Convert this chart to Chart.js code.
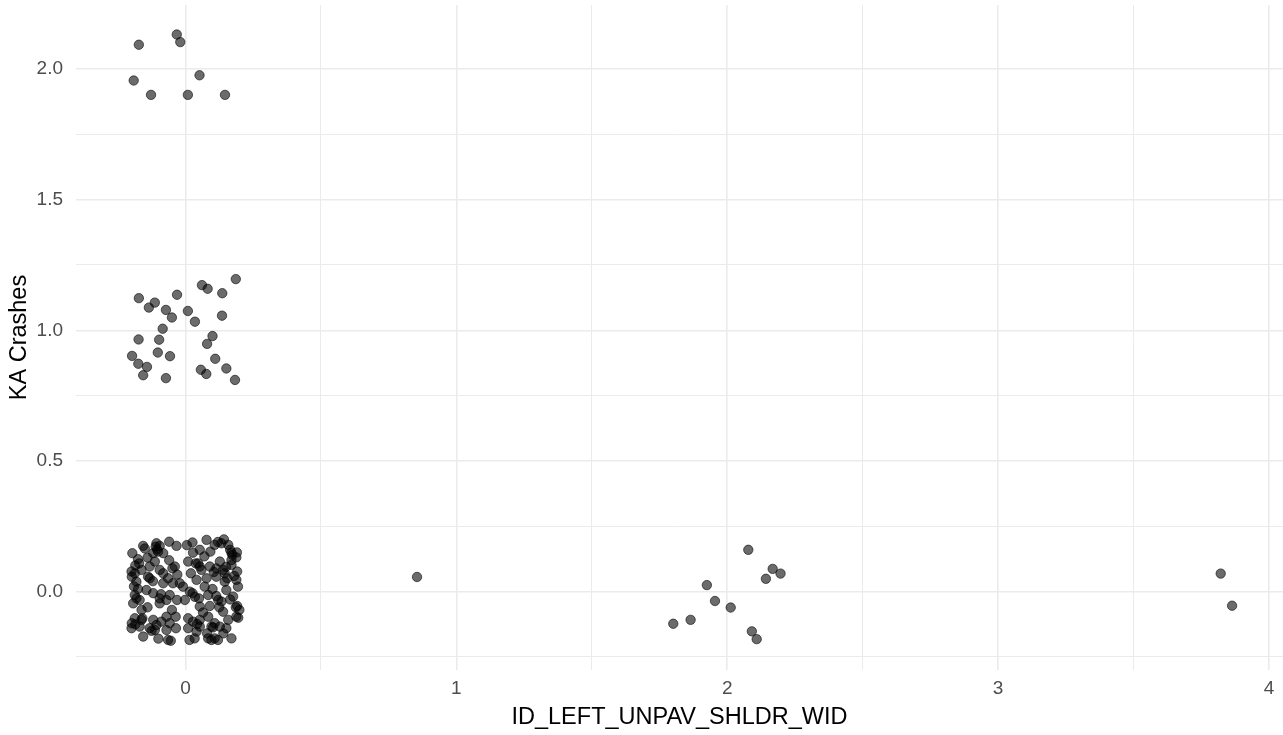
<!DOCTYPE html>
<html>
<head>
<meta charset="utf-8">
<script src="https://cdn.jsdelivr.net/npm/chart.js@4"></script>
<style>
  html, body { margin: 0; padding: 0; background: #ffffff; }
  #wrap { width: 1283px; height: 735px; position: relative; }
</style>
</head>
<body>
<div id="wrap"><canvas id="c" width="1283" height="735"></canvas></div>
<script>
// ---- Data (jittered points) ----
const xTitle = "ID_LEFT_UNPAV_SHLDR_WID";
const yTitle = "KA Crashes";
const xTickValues = [0, 1, 2, 3, 4];
const xTickLabels = ["0", "1", "2", "3", "4"];
const xMinorValues = [0.5, 1.5, 2.5, 3.5];
const yTickValues = [0, 0.5, 1, 1.5, 2];
const yTickLabels = ["0.0", "0.5", "1.0", "1.5", "2.0"];
const yMinorValues = [-0.25, 0.25, 0.75, 1.25, 1.75];

// KA = 0, shoulder width 0 (jittered)
const zeroX = [-0.156,-0.107,-0.105,-0.060,-0.033,0.026,0.078,0.108,0.142,0.158,
  -0.196,-0.175,-0.119,-0.082,0.028,0.053,0.092,0.170,0.188,-0.199,
  -0.198,-0.162,-0.132,-0.113,-0.095,-0.048,0.010,0.047,0.059,0.090,
  0.127,0.139,0.170,0.191,-0.138,-0.064,-0.021,0.041,0.078,0.114,
  0.145,0.188,-0.181,-0.082,-0.046,-0.187,-0.169,-0.119,-0.095,-0.070,
  -0.031,-0.002,0.026,0.050,0.084,0.114,0.133,0.176,0.191,0.053,
  0.090,0.016,-0.058,-0.144,0.151,-0.187,-0.162,-0.119,-0.070,-0.036,
  -0.089,-0.199,-0.169,-0.107,-0.058,0.028,0.053,0.084,0.108,0.139,
  0.158,0.188,0.186,0.053,0.096,0.127,0.151,-0.198,-0.156,-0.113,
  -0.070,-0.064,0.034,0.084,0.108,0.170,-0.132,0.010,0.041,-0.101,
  -0.110,0.038,0.053,0.133,0.173,0.145,0.154,-0.181,-0.159,0.121,
  0.043,-0.132,-0.039,0.102,-0.054,0.096,-0.171,-0.187,0.170,0.194,
  0.199,-0.095,0.071,-0.082,-0.193,-0.009,0.010,0.114,-0.162,
  -0.150,-0.095,0.005,0.120,0.165,-0.185,-0.140,-0.060,0.070,0.150,
  -0.120,-0.030,0.020,0.105,0.180,-0.175,-0.090,0.035,0.100,0.165,
  -0.140,-0.050,0.065,0.125,0.195,-0.185,-0.125,-0.035,0.080,0.140,
  -0.100,0.015,0.120,-0.190,0.190];
const zeroY = [0.175,0.185,0.162,0.191,0.175,0.188,0.198,0.179,0.200,0.179,
  0.147,0.124,0.147,0.147,0.149,0.160,0.153,0.149,0.131,0.077,
  0.057,0.083,0.096,0.115,0.083,0.089,0.115,0.108,0.083,0.096,
  0.115,0.083,0.102,0.077,0.057,0.051,0.032,0.045,0.051,0.057,
  0.038,0.045,0.038,0.032,0.032,-0.013,-0.032,-0.006,-0.026,-0.032,
  -0.032,-0.032,-0.006,-0.026,-0.013,-0.017,-0.038,-0.019,-0.055,-0.057,
  -0.055,0.000,-0.013,0.006,0.006,-0.102,-0.108,-0.108,-0.096,-0.096,
  -0.115,-0.140,-0.134,-0.128,-0.121,-0.115,-0.108,-0.096,-0.121,-0.077,
  -0.108,-0.096,-0.060,-0.134,-0.134,-0.134,-0.140,-0.121,-0.172,-0.147,
  -0.147,-0.185,-0.179,-0.179,-0.179,-0.179,-0.140,-0.140,-0.153,0.153,
  0.172,0.108,0.096,0.185,0.140,0.070,0.051,-0.026,-0.102,-0.032,
  -0.124,0.051,0.096,-0.137,-0.188,-0.185,0.108,0.070,0.121,0.019,
  -0.070,-0.045,0.019,0.070,-0.045,0.019,-0.102,0.089,-0.070,
  0.165,0.175,0.178,0.190,0.160,0.100,0.130,0.120,0.135,0.095,
  0.040,0.065,0.070,0.075,0.060,0.010,-0.010,-0.020,0.010,-0.030,
  -0.060,-0.070,-0.080,-0.060,-0.100,-0.125,-0.150,-0.140,-0.160,-0.160,
  -0.180,-0.185,-0.185,0.020,0.150];

// KA = 1 (jittered)
const oneX = [0.186,0.061,0.082,0.136,-0.172,-0.113,-0.135,-0.031,-0.072,-0.050,
  0.009,0.035,0.135,-0.084,-0.173,-0.097,0.100,0.080,-0.102,-0.057,
  -0.197,-0.174,-0.142,-0.156,-0.072,0.057,0.077,0.110,0.151,0.183];
const oneY = [1.196,1.173,1.159,1.142,1.123,1.106,1.087,1.136,1.078,1.049,
  1.074,1.033,1.056,1.006,0.965,0.964,0.978,0.948,0.915,0.901,
  0.902,0.872,0.860,0.828,0.817,0.849,0.833,0.891,0.854,0.810];

// KA = 2 (jittered)
const twoX = [-0.172,-0.032,-0.019,-0.191,-0.127,0.009,0.146,0.052];
const twoY = [2.093,2.132,2.103,1.956,1.901,1.901,1.901,1.976];

// Wider shoulders, KA = 0 (jittered)
const wideX = [0.855,2.078,2.168,2.197,2.143,1.925,1.955,2.013,1.865,1.801,2.091,2.109,3.822,3.864];
const wideY = [0.056,0.160,0.087,0.069,0.049,0.025,-0.036,-0.061,-0.108,-0.123,-0.152,-0.182,0.069,-0.054];

function zip(xs, ys) { return xs.map((x, i) => ({ x: x, y: ys[i] })); }
const allPoints = [].concat(zip(zeroX, zeroY), zip(oneX, oneY), zip(twoX, twoY), zip(wideX, wideY));

const xTicks = xTickValues.concat(xMinorValues).sort((a, b) => a - b);
const yTicks = yTickValues.concat(yMinorValues).sort((a, b) => a - b);

const FONT = "'Liberation Sans', Arial, Helvetica, sans-serif";
const GRID = '#ebebeb';

function isMajor(v, majors) { return majors.some(m => Math.abs(m - v) < 1e-9); }

new Chart(document.getElementById('c'), {
  type: 'scatter',
  data: {
    datasets: [{
      data: allPoints,
      pointRadius: 4.7,
      pointHoverRadius: 4.7,
      borderWidth: 1,
      backgroundColor: 'rgba(0,0,0,0.58)',
      borderColor: 'rgba(0,0,0,0.58)'
    }]
  },
  options: {
    responsive: false,
    animation: false,
    events: [],
    layout: { autoPadding: false, padding: { top: 5, right: 0, left: 0, bottom: 0 } },
    plugins: { legend: { display: false }, tooltip: { enabled: false } },
    scales: {
      x: {
        type: 'linear',
        min: -0.404,
        max: 4.052,
        afterBuildTicks: s => { s.ticks = xTicks.map(v => ({ value: v })); },
        afterFit: s => { s.height = 65; s.paddingLeft = 0; s.paddingRight = 0; },
        border: { display: false },
        grid: {
          drawTicks: false,
          color: GRID,
          lineWidth: ctx => (ctx.tick && isMajor(ctx.tick.value, xTickValues)) ? 1.6 : 1
        },
        ticks: {
          autoSkip: false,
          maxRotation: 0,
          padding: 7,
          color: '#4d4d4d',
          font: { family: FONT, size: 19 },
          callback: v => { const i = xTickValues.findIndex(m => Math.abs(m - v) < 1e-9); return i >= 0 ? xTickLabels[i] : ''; }
        },
        title: {
          display: true,
          text: xTitle,
          color: '#000000',
          font: { family: FONT, size: 23.5 },
          padding: { top: 0, bottom: 3 }
        }
      },
      y: {
        type: 'linear',
        min: -0.30,
        max: 2.245,
        afterBuildTicks: s => { s.ticks = yTicks.map(v => ({ value: v })); },
        afterFit: s => { s.width = 76; s.paddingTop = 0; s.paddingBottom = 0; },
        border: { display: false },
        grid: {
          drawTicks: false,
          color: GRID,
          lineWidth: ctx => (ctx.tick && isMajor(ctx.tick.value, yTickValues)) ? 1.6 : 1
        },
        ticks: {
          autoSkip: false,
          padding: 13,
          color: '#4d4d4d',
          font: { family: FONT, size: 19 },
          callback: v => { const i = yTickValues.findIndex(m => Math.abs(m - v) < 1e-9); return i >= 0 ? yTickLabels[i] : ''; }
        },
        title: {
          display: true,
          text: yTitle,
          color: '#000000',
          font: { family: FONT, size: 23.5 },
          padding: { top: 5, bottom: 0 }
        }
      }
    }
  }
});
</script>
</body>
</html>
